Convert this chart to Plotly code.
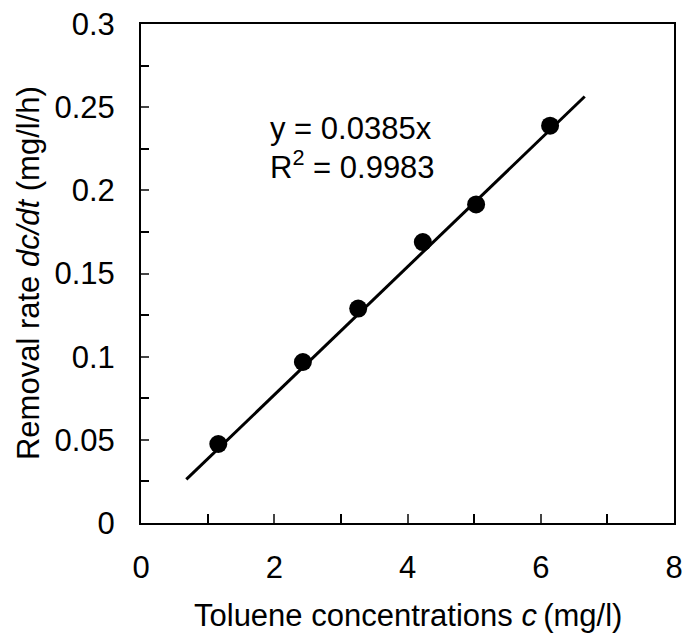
import plotly.graph_objects as go

conc = [1.16, 2.43, 3.26, 4.23, 5.03, 6.14]
rate = [0.0475, 0.0968, 0.1289, 0.1689, 0.1915, 0.2389]
slope = 0.0385
fit_x = [0.68, 6.66]
fit_y = [slope * v for v in fit_x]
x_title = "Toluene concentrations <i>c</i>\u2009(mg/l)"
y_title = "Removal rate <i>dc/dt</i> (mg/l/h)"

fig = go.Figure()
fig.add_trace(go.Scatter(x=fit_x, y=fit_y, mode="lines",
                         line=dict(color="black", width=3), showlegend=False))
fig.add_trace(go.Scatter(x=conc, y=rate, mode="markers",
                         marker=dict(color="black", size=18), showlegend=False))

font = "Liberation Sans, Arial, sans-serif"
fig.update_layout(
    width=683, height=634,
    margin=dict(l=141, r=9, t=24, b=111),
    paper_bgcolor="white", plot_bgcolor="white",
    font=dict(family=font, color="black", size=31),
    xaxis=dict(range=[0, 8], dtick=2, tick0=0, ticks="inside", ticklen=9, tickwidth=1.5,
               showline=True, linecolor="black", linewidth=2, mirror=True,
               showgrid=False, zeroline=False, ticklabelstandoff=16, automargin=False,
               minor=dict(dtick=1, ticks="inside", ticklen=9, tickwidth=1.5, tickcolor="black")),
    yaxis=dict(range=[0, 0.3], dtick=0.05, tick0=0, ticks="inside", ticklen=8, tickwidth=1.5,
               showline=True, linecolor="black", linewidth=2, mirror=True,
               showgrid=False, zeroline=False, ticklabelstandoff=18, automargin=False,
               minor=dict(dtick=0.025, ticks="inside", ticklen=8, tickwidth=1.5, tickcolor="black")),
)
fig.add_annotation(x=0.5, y=-0.186, xref="paper", yref="paper", showarrow=False,
                   xanchor="center", yanchor="middle", text=x_title, font=dict(size=31))
fig.add_annotation(x=-0.211, y=0.5, xref="paper", yref="paper", showarrow=False,
                   xanchor="center", yanchor="middle", textangle=-90,
                   text=y_title, font=dict(size=31))
fig.add_annotation(x=1.91, y=0.237, xref="x", yref="y", xanchor="left", showarrow=False,
                   text="y = 0.0385x", font=dict(size=31))
fig.add_annotation(x=1.91, y=0.215, xref="x", yref="y", xanchor="left", showarrow=False,
                   text="R<sup>2</sup> = 0.9983", font=dict(size=31))
fig.write_html("out.html")
